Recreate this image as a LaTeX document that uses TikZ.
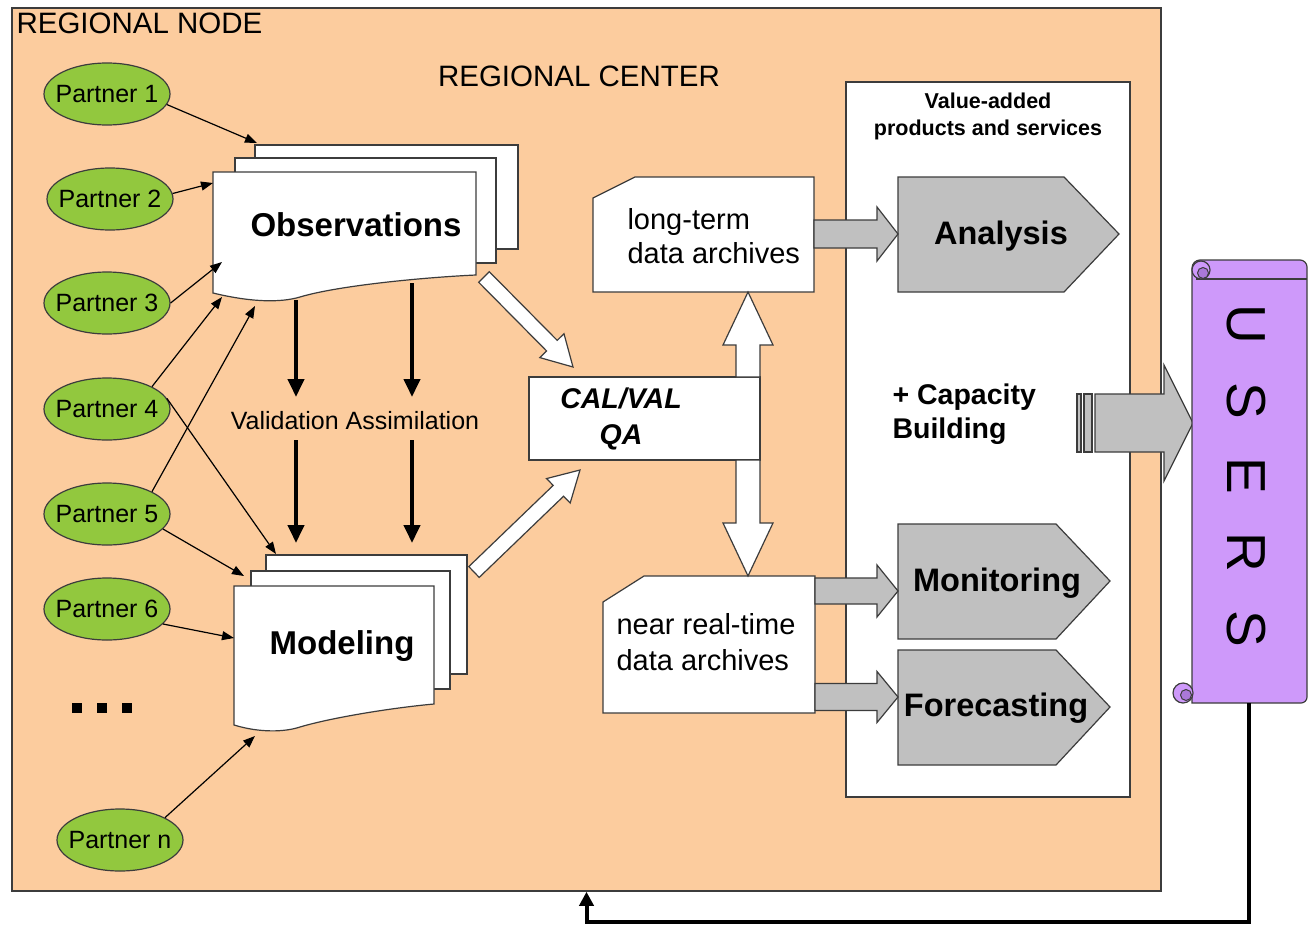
\documentclass[tikz,border=0pt]{standalone}
\usepackage{fontspec}
\setmainfont{Liberation Sans}
\usetikzlibrary{arrows.meta, positioning, shapes.geometric, calc}

\definecolor{peach}{RGB}{252,204,158}
\definecolor{leaf}{RGB}{146,200,62}
\definecolor{lilac}{RGB}{206,153,250}
\definecolor{curl}{RGB}{170,120,215}
\definecolor{silver}{RGB}{192,192,192}
\definecolor{edge}{RGB}{60,60,60}

\newcommand{\fs}[2]{\fontsize{#1}{#2}\selectfont}
% block arrow: [style]{from}{to}{shaft half width}{head half width}{head length}
\newcommand{\fatarrow}[6][]{%
  \filldraw[#1] let \p1=($(#3)-(#2)$), \n1={atan2(\y1,\x1)}, \n2={veclen(\x1,\y1)} in
    ($(#2)+(\n1-90:#4pt)$) -- ++(\n1:\n2-#6pt) -- ++(\n1-90:#5pt-#4pt) -- (#3)
    -- ($(#2)+(\n1:\n2-#6pt)+(\n1+90:#5pt)$) -- ++(\n1-90:#5pt-#4pt)
    -- ($(#2)+(\n1+90:#4pt)$) -- cycle;}

\begin{document}
\begin{tikzpicture}[x=1pt, y=-1pt,
    partner/.style={ellipse, draw=edge, fill=leaf, line width=1.2pt,
      minimum width=126pt, minimum height=62pt, inner xsep=-12pt, inner ysep=0pt,
      font=\fs{25}{30}},
    page/.style={draw=edge, fill=white, line width=1.2pt},
    feed/.style={-{Triangle[length=12pt,width=9pt]}, line width=1.2pt},
    big/.style={-{Triangle[length=18pt,width=16pt]}, line width=4pt},
    hollow/.style={draw=edge, fill=white, line width=1.2pt},
    grayarrow/.style={draw=edge, fill=silver, line width=1.2pt},
    product/.style={draw=edge, fill=silver, line width=1.2pt},
    scroll/.style={draw=edge, fill=lilac, line width=1.2pt}]
  \useasboundingbox (0,0) rectangle (1308,926);

  % regional node and panel
  \node[draw=edge, fill=peach, line width=1.5pt, minimum width=1149pt,
    minimum height=883pt, inner sep=0pt] (rnode) at (586.5,449.5) {};
  \node[anchor=west, font=\fs{29.5}{34}] (rntitle) at (13,23) {REGIONAL NODE};
  \node[font=\fs{29.5}{34}] (rc) at (579,76) {REGIONAL CENTER};
  \node[draw=edge, fill=white, line width=1.5pt, minimum width=284pt,
    minimum height=715pt, inner sep=0pt] (vap) at (988,439.5) {};
  \node[font=\bfseries\fs{21.5}{27}, align=center] (vat) at (988,116) {Value-added\\products and services};

  % partners
  \node[partner] (p1) at (107,94) {Partner 1};
  \node[partner] (p2) at (110,199) {Partner 2};
  \node[partner] (p3) at (107,303) {Partner 3};
  \node[partner] (p4) at (107,409) {Partner 4};
  \node[partner] (p5) at (107,514) {Partner 5};
  \node[partner] (p6) at (107,609) {Partner 6};
  \node[partner] (pn) at (120,840) {Partner n};
  \foreach \x in {77,102,127}
    \fill (\x-5,703) rectangle (\x+5,713);

  % observations
  \filldraw[page] (255,145) rectangle (518,249);
  \filldraw[page] (235,158) rectangle (496,263);
  \filldraw[page] (213,172) -- (476,172) -- (476,275)
    .. controls (430,277) and (340,285) .. (300,297)
    .. controls (280,303) and (250,302) .. (213,293) -- cycle;
  \node[font=\bfseries\fs{33}{38}] (obs) at (356,225) {Observations};

  % modeling
  \filldraw[page] (266,555) rectangle (467,674);
  \filldraw[page] (251,571) rectangle (450,689);
  \filldraw[page] (234,586) -- (434,586) -- (434,704)
    .. controls (390,708) and (330,718) .. (300,727)
    .. controls (285,732) and (260,733) .. (234,725) -- cycle;
  \node[font=\bfseries\fs{33}{38}] (mod) at (342,646) {Modeling};

  \coordinate (oa) at (257,143);
  \coordinate (ob) at (213,183);
  \coordinate (oc) at (222,262);
  \coordinate (od) at (222,297);
  \coordinate (oe) at (255,306);
  \coordinate (ma) at (276,554);
  \coordinate (mb) at (244,576);
  \coordinate (mc) at (234,638);
  \coordinate (md) at (255,736);
  \draw[feed] (p1.-10) -- (oa);
  \draw[feed] (p2.5) -- (ob);
  \draw[feed] (p3.east) -- (oc);
  \draw[feed] (p4.north east) -- (od);
  \draw[feed] (p5.north east) -- (oe);
  \draw[feed] (p4.10) -- (ma);
  \draw[feed] (p5.-15) -- (mb);
  \draw[feed] (p6.-15) -- (mc);
  \draw[feed] (pn.north east) -- (md);

  % validation / assimilation
  \node[font=\fs{25}{30}] (va) at (355,421) {Validation Assimilation};
  \coordinate (o1) at (296,300);
  \coordinate (o2) at (412,283);
  \coordinate (v1) at (296,397);
  \coordinate (v2) at (412,397);
  \coordinate (v3) at (296,440);
  \coordinate (v4) at (412,440);
  \coordinate (m1) at (296,543);
  \coordinate (m2) at (412,543);
  \draw[big] (o1) -- (v1);
  \draw[big] (o2) -- (v2);
  \draw[big] (v3) -- (m1);
  \draw[big] (v4) -- (m2);

  % cal/val
  \node[draw=edge, fill=white, line width=1.2pt, minimum width=231pt,
    minimum height=83pt, inner sep=0pt] (cal) at (644.5,418.5) {};
  \node[font=\bfseries\itshape\fs{28.5}{36}, align=center] (calt) at (621,419) {CAL/VAL\\QA};
  \coordinate (obs-t) at (484,277);
  \coordinate (cal-a) at (573,367);
  \coordinate (mod-t) at (474,572);
  \coordinate (cal-b) at (580,470);
  \fatarrow[hollow]{obs-t}{cal-a}{7.5}{17}{30}
  \fatarrow[hollow]{mod-t}{cal-b}{7.5}{17}{30}

  % archives
  \filldraw[page] (593,198) -- (635,177) -- (814,177) -- (814,292) -- (593,292) -- cycle;
  \node[anchor=west, font=\fs{29}{34}, align=left] (ltt) at (624,236) {long-term\\data archives};
  \filldraw[page] (603,602) -- (644,576) -- (815,576) -- (815,713) -- (603,713) -- cycle;
  \node[anchor=west, font=\fs{29}{36}, align=left] (nrt) at (613,642) {near real-time\\data archives};
  \coordinate (cal-u) at (748,377);
  \coordinate (lt-s) at (748,292);
  \coordinate (cal-d) at (748,460);
  \coordinate (nr-n) at (748,576);
  \fatarrow[hollow]{cal-u}{lt-s}{12}{25}{53}
  \fatarrow[hollow]{cal-d}{nr-n}{12}{25}{53}

  % products
  \filldraw[product] (898,177) -- (1064,177) -- (1119,234) -- (1064,292) -- (898,292) -- cycle;
  \node[font=\bfseries\fs{32.5}{38}] (an) at (1001,236) {Analysis};
  \filldraw[product] (898,524) -- (1056,524) -- (1110,581) -- (1056,639) -- (898,639) -- cycle;
  \node[font=\bfseries\fs{32.5}{38}] (mo) at (997,583) {Monitoring};
  \filldraw[product] (898,650) -- (1056,650) -- (1110,707) -- (1056,765) -- (898,765) -- cycle;
  \node[font=\bfseries\fs{32.5}{38}] (fc) at (996,708) {Forecasting};
  \coordinate (lt-e) at (814,234);
  \coordinate (an-w) at (898,234);
  \coordinate (nr-e1) at (815,591);
  \coordinate (mo-w) at (898,591);
  \coordinate (nr-e2) at (815,697);
  \coordinate (fc-w) at (898,697);
  \fatarrow[grayarrow]{lt-e}{an-w}{14}{27}{21}
  \fatarrow[grayarrow]{nr-e1}{mo-w}{13}{26}{21}
  \fatarrow[grayarrow]{nr-e2}{fc-w}{13.5}{25.5}{21}

  % capacity building
  \node[anchor=west, font=\bfseries\fs{28.5}{34}, align=left] (cb) at (889,414) {+ Capacity\\Building};
  \filldraw[grayarrow] (1077,394) rectangle (1081,452);
  \filldraw[grayarrow] (1084,394) rectangle (1092,452);
  \coordinate (cb-t) at (1095,423);
  \coordinate (users-w) at (1193,423);
  \fatarrow[grayarrow]{cb-t}{users-w}{29}{58}{29}

  % users scroll
  \filldraw[scroll] (1192,703) -- (1192,268) arc[start angle=180, end angle=90, radius=8pt]
    -- (1300,260) arc[start angle=90, end angle=0, radius=7pt]
    -- (1307,697) arc[start angle=0, end angle=-90, radius=6pt] -- cycle;
  \draw[draw=edge, line width=1.2pt] (1196,279) -- (1307,279);
  \filldraw[scroll] (1201,270) circle[radius=9pt];
  \filldraw[draw=edge, fill=curl, line width=1pt] (1203,273) circle[radius=5.5pt];
  \filldraw[scroll] (1183,693) circle[radius=10pt];
  \filldraw[draw=edge, fill=curl, line width=1pt] (1186,695) circle[radius=5.5pt];
  \node[rotate=-90, font=\fs{55}{60}] (users) at (1246,476) {\spaceskip=0.7em U S E R S};

  % feedback
  \coordinate (users-b) at (1249,703);
  \draw[big, -{Triangle[length=14pt,width=14pt]}] (users-b) -- (1249,922) -| (rnode.south);
\end{tikzpicture}
\end{document}
